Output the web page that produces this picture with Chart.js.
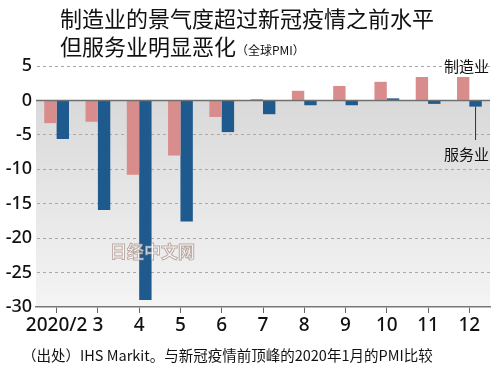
<!DOCTYPE html>
<html>
<head>
<meta charset="utf-8">
<script src="https://cdn.jsdelivr.net/npm/chart.js@4/dist/chart.umd.min.js"></script>
<style>
  body { margin:0; background:#fff; }
  #wrap { position:relative; width:500px; height:368px; overflow:hidden; font-family:"Noto Sans CJK SC", sans-serif; color:#111; }
  #chart { position:absolute; left:0; top:0; }
  .t { position:absolute; white-space:nowrap; }
</style>
</head>
<body>
<div id="wrap">
  <canvas id="chart" width="500" height="368"></canvas>
  <div class="t" style="left:60px;top:3px;font-size:22px;line-height:28px;">制造业的景气度超过新冠疫情之前水平</div>
  <div class="t" style="left:60px;top:31px;font-size:22px;line-height:28px;">但服务业明显恶化<span style="font-size:12px;">（全球PMI）</span></div>
  <div class="t" style="left:444px;top:55px;font-size:15px;">制造业</div>
  <div class="t" style="left:444px;top:143px;font-size:15px;">服务业</div>
  <div class="t" style="left:110px;top:238px;font-size:17px;font-weight:bold;color:rgba(255,255,255,0.75);-webkit-text-stroke:1px rgba(150,120,110,0.6);">日经中文网</div>
  <div class="t" style="left:22px;top:344px;font-size:14.5px;">（出处）IHS Markit。与新冠疫情前顶峰的2020年1月的PMI比较</div>
</div>
<script>
// 与2020年1月相比的PMI差值
const months = ['2020/2', '3', '4', '5', '6', '7', '8', '9', '10', '11', '12'];
const manufacturing = [-3.3, -3.1, -10.8, -8.0, -2.4, 0.2, 1.4, 2.1, 2.7, 3.4, 3.4];
const services = [-5.6, -15.9, -29.0, -17.6, -4.6, -2.0, -0.7, -0.7, 0.3, -0.5, -0.9];
const yTicks = [5, 0, -5, -10, -15, -20, -25, -30];

// plot background + zero line + leader line
const deco = {
  id: 'deco',
  beforeDatasetsDraw(chart) {
    const {ctx, chartArea: a, scales: {y}} = chart;
    const y0 = y.getPixelForValue(0);
    const g = ctx.createLinearGradient(0, y0, 0, a.bottom);
    g.addColorStop(0, '#d9d9d9');
    g.addColorStop(1, '#f4f4f4');
    ctx.save();
    ctx.globalCompositeOperation = 'destination-over';
    ctx.fillStyle = g;
    ctx.fillRect(a.left, y0, a.right - a.left, a.bottom - y0);
    ctx.restore();
  },
  afterDatasetsDraw(chart) {
    const {ctx, chartArea: a, scales: {y}} = chart;
    const y0 = y.getPixelForValue(0);
    ctx.save();
    ctx.strokeStyle = '#6f6f6f';
    ctx.lineWidth = 1.5;
    ctx.beginPath();
    ctx.moveTo(a.left, y0);
    ctx.lineTo(a.right, y0);
    ctx.stroke();
    const bar = chart.getDatasetMeta(1).data[services.length - 1];
    ctx.strokeStyle = '#333';
    ctx.lineWidth = 1;
    ctx.beginPath();
    ctx.moveTo(bar.x, bar.y);
    ctx.lineTo(bar.x, 140);
    ctx.stroke();
    ctx.restore();
  }
};

new Chart(document.getElementById('chart'), {
  type: 'bar',
  data: {
    labels: months,
    datasets: [
      { label: '制造业', data: manufacturing, backgroundColor: '#d98c8c' },
      { label: '服务业', data: services, backgroundColor: '#1f5a8e' }
    ]
  },
  options: {
    responsive: false,
    animation: false,
    layout: { padding: { top: 66, right: 10, bottom: 31, left: 0 } },
    plugins: { legend: { display: false }, tooltip: { enabled: false } },
    datasets: { bar: { categoryPercentage: 0.6, barPercentage: 1 } },
    scales: {
      x: {
        afterFit: s => { s.height = 30; },
        grid: { offset: false, drawOnChartArea: false, tickLength: 6, color: '#666' },
        border: { color: '#777', width: 1.5 },
        ticks: { color: '#111', font: { family: 'Noto Sans', size: 19, weight: '500' }, padding: 1, maxRotation: 0, autoSkip: false }
      },
      y: {
        min: -30, max: 5,
        afterFit: s => { s.width = 36; },
        afterBuildTicks: s => { s.ticks = yTicks.map(v => ({ value: v })); },
        grid: {
          drawTicks: false,
          color: c => (c.tick.value === 0 || c.tick.value === -30) ? 'rgba(0,0,0,0)' : '#a8a8a8',
          lineWidth: 1,
          borderDash: [3, 3]
        },
        border: { display: true, color: 'rgba(0,0,0,0)', dash: [3, 3] },
        ticks: { color: '#111', font: { family: 'Noto Sans', size: 18, weight: '500' }, padding: 4 }
      }
    }
  },
  plugins: [deco]
});
</script>
</body>
</html>
